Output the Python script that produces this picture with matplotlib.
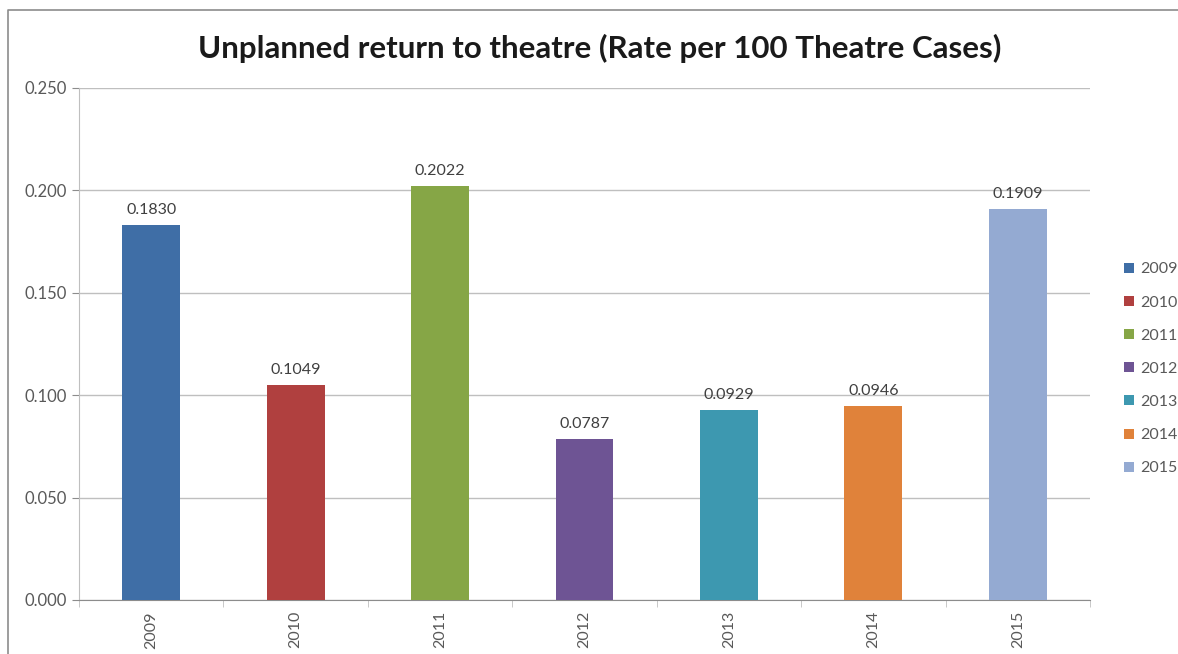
import matplotlib
matplotlib.use('Agg')
import matplotlib.pyplot as plt
from matplotlib.lines import Line2D

years = ['2009', '2010', '2011', '2012', '2013', '2014', '2015']
rates = [0.1830, 0.1049, 0.2022, 0.0787, 0.0929, 0.0946, 0.1909]
colours = ['#3F6EA6', '#B0403F', '#86A646', '#6E5494', '#3D98B0', '#E0823A', '#94AAD2']
yticks = [0.000, 0.050, 0.100, 0.150, 0.200, 0.250]

plt.rcParams['font.family'] = ['Lato', 'DejaVu Sans']
grey = '#595959'

fig = plt.figure(figsize=(11.78, 6.54), dpi=100)
fig.patch.set_facecolor('white')

# outer chart frame: only left and top edges fall inside the image
fl, ft = 8 / 1178, 1 - 10 / 654
fig.add_artist(Line2D([fl, fl, 1.0], [0.0, ft, ft], transform=fig.transFigure,
                      color='#8c8c8c', lw=1.2))

ax = fig.add_axes([79 / 1178, 1 - 600 / 654, (1090 - 79) / 1178, (600 - 88) / 654])

x = range(len(years))
bars = ax.bar(x, rates, width=0.4, color=colours, label=years, zorder=3)

for xi, v in zip(x, rates):
    ax.text(xi, v + 0.004, f'{v:.4f}', ha='center', va='bottom',
            fontsize=11.5, color='#404040')

ax.set_xlim(-0.5, len(years) - 0.5)
ax.set_ylim(0, 0.25)
ax.set_yticks(yticks)
ax.set_yticklabels([f'{t:.3f}' for t in yticks], fontsize=12, color=grey)
ax.yaxis.grid(True, color='#bfbfbf', lw=1, zorder=0)
ax.tick_params(axis='y', length=5, color='#8c8c8c', pad=4)

ax.set_xticks(list(x))
ax.set_xticklabels(years, rotation=90, fontsize=11.5, color=grey)
ax.tick_params(axis='x', length=0, pad=8)
# category boundary ticks
ax.set_xticks([i - 0.5 for i in range(len(years) + 1)], minor=True)
ax.tick_params(axis='x', which='minor', length=5, color='#bfbfbf')

for s in ['top', 'right']:
    ax.spines[s].set_visible(False)
ax.spines['left'].set_color('#bfbfbf')
ax.spines['bottom'].set_color('#8c8c8c')

fig.text(600 / 1178, 1 - 48 / 654, 'Unplanned return to theatre (Rate per 100 Theatre Cases)',
         ha='center', va='center', fontsize=22.5, fontweight='bold', color='#1a1a1a')

leg = fig.legend(bars, years, loc='upper left', bbox_to_anchor=(1110 / 1178, 1 - 248 / 654),
                 frameon=False, fontsize=11.5, handlelength=0.6, handleheight=0.6,
                 handletextpad=0.4, labelspacing=1.2, labelcolor=grey)

fig.savefig('out.png', dpi=100)
